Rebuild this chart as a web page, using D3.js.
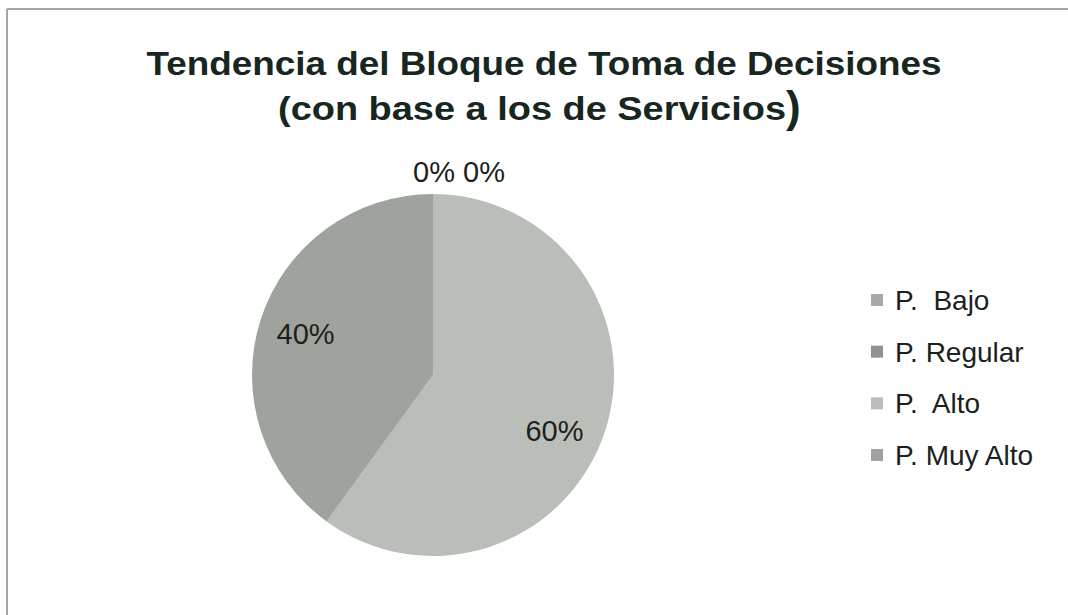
<!DOCTYPE html>
<html>
<head>
<meta charset="utf-8">
<script src="https://cdn.jsdelivr.net/npm/d3@7/dist/d3.min.js"></script>
<style>
  html, body { margin: 0; padding: 0; background: #ffffff; }
  svg { display: block; font-family: "Liberation Sans", Arial, sans-serif; }
</style>
</head>
<body>
<svg id="chart" width="1068" height="615"></svg>
<script>
// Data
const categories = ["P.  Bajo", "P. Regular", "P.  Alto", "P. Muy Alto"];
const values = [0, 0, 60, 40];
const percentLabels = ["0%", "0%", "60%", "40%"];
const sliceColors = ["#a7aba6", "#8e938e", "#babeb9", "#9ea39e"];
const titleLines = ["Tendencia del Bloque de Toma de Decisiones", "(con base a los de Servicios"];

const svg = d3.select("#chart");
const W = 1068, H = 615;

// Frame
svg.append("rect").attr("x", 0).attr("y", 0).attr("width", W).attr("height", H).attr("fill", "#ffffff");
svg.append("line").attr("x1", 7).attr("x2", W).attr("y1", 9).attr("y2", 9)
  .attr("stroke", "#a4a8a4").attr("stroke-width", 2);
svg.append("line").attr("x1", 7).attr("x2", 7).attr("y1", 9).attr("y2", H)
  .attr("stroke", "#a4a8a4").attr("stroke-width", 2);

// Title
const title = svg.append("g").attr("fill", "#17261f").attr("font-weight", "bold");
title.append("text").attr("x", 544).attr("y", 75).attr("text-anchor", "middle")
  .attr("font-size", 34).attr("textLength", 795).attr("lengthAdjust", "spacingAndGlyphs")
  .text(titleLines[0]);
title.append("text").attr("x", 278).attr("y", 120)
  .attr("font-size", 34).attr("textLength", 508).attr("lengthAdjust", "spacingAndGlyphs")
  .text(titleLines[1]);
title.append("text").attr("x", 786).attr("y", 122).attr("font-size", 44).text(")");

// Pie
const cx = 433, cy = 375, r = 181;
const pie = d3.pie().sort(null).value(d => d)(values);
const arc = d3.arc().innerRadius(0).outerRadius(r);
const g = svg.append("g").attr("transform", `translate(${cx},${cy})`);
g.selectAll("path").data(pie).join("path")
  .attr("d", arc)
  .attr("fill", (d, i) => sliceColors[i]);

// Data labels
const labelR = r * 0.74;
const labels = svg.append("g").attr("fill", "#1c1f1c").attr("font-size", 29);
pie.forEach((d, i) => {
  let x, y, anchor = "middle";
  if (d.value === 0) {
    // zero slices sit just above the start line, side by side
    x = cx + (i === 0 ? 22 : 30);
    y = cy - r - 12;
    anchor = i === 0 ? "end" : "start";
  } else {
    // best-fit placement: shift the label angle toward the lower half for the larger slice
    const mid = (d.startAngle + d.endAngle) / 2 + (d.endAngle - d.startAngle > Math.PI ? 0.12 : 0);
    x = cx + labelR * Math.sin(mid);
    y = cy - labelR * Math.cos(mid) + 10;
  }
  labels.append("text").attr("x", x).attr("y", y).attr("text-anchor", anchor).text(percentLabels[i]);
});

// Legend
const legend = svg.append("g").attr("transform", "translate(871,300)");
const rowY = d3.scalePoint().domain(categories).range([0, 155]);
categories.forEach((c, i) => {
  const row = legend.append("g").attr("transform", `translate(0,${rowY(c)})`);
  row.append("rect").attr("x", 0).attr("y", -6).attr("width", 12).attr("height", 12).attr("fill", sliceColors[i]);
  row.append("text").attr("x", 24).attr("y", 10).attr("font-size", 28).attr("fill", "#1a221d")
    .attr("textLength", null)
    .style("white-space", "pre").text(c);
});
</script>
</body>
</html>
